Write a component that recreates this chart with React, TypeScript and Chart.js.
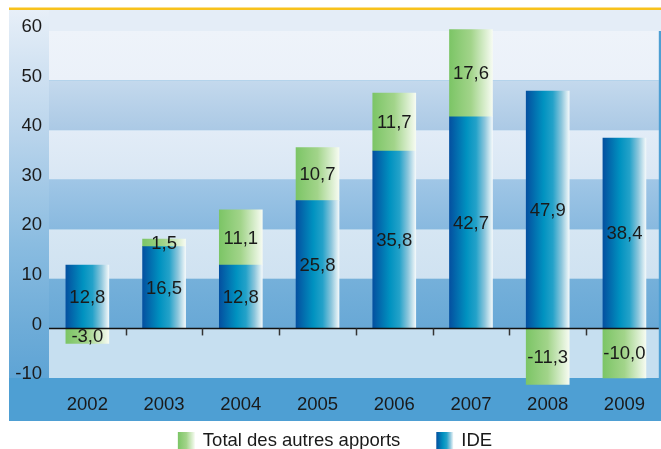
import React, { useEffect, useRef } from 'react';
import { Chart, registerables } from 'chart.js';

Chart.register(...registerables);

// ---- data ----
const years = [2002, 2003, 2004, 2005, 2006, 2007, 2008, 2009];
const ide = [12.8, 16.5, 12.8, 25.8, 35.8, 42.7, 47.9, 38.4];
const autres = [-3.0, 1.5, 11.1, 10.7, 11.7, 17.6, -11.3, -10.0];
const yTicks = [-10, 0, 10, 20, 30, 40, 50, 60];
const seriesIDE = 'IDE';
const seriesAutres = 'Total des autres apports';

// ---- style ----
const FONT = "'Liberation Sans', Arial, Helvetica, sans-serif";
const FSIZE = 18.5;
const TEXT = '#1a1a1a';
const BAR_W = 43;

function blueStops(g: CanvasGradient) {
  g.addColorStop(0, '#0450a0');
  g.addColorStop(0.4, '#0092c0');
  g.addColorStop(0.62, '#24a2c9');
  g.addColorStop(0.82, '#8cc6dc');
  g.addColorStop(1, '#f2f8fa');
}
function greenStops(g: CanvasGradient) {
  g.addColorStop(0, '#7cc566');
  g.addColorStop(0.5, '#a2d48a');
  g.addColorStop(1, '#f6fbf1');
}

// band colours, from top (60..50) to bottom (0..-10): [top colour, bottom colour]
const bandColors: [string, string][] = [
  ['#eef3fa', '#ebf1f9'],
  ['#c4d9ed', '#abc9e5'],
  ['#e2ecf7', '#d9e7f4'],
  ['#a0c6e6', '#88b9df'],
  ['#d6e6f3', '#cfe2f1'],
  ['#75b0da', '#68a8d6'],
  ['#c6dff0', '#c6dff0'],
];

function barGradient(ctx: any, stops: (g: CanvasGradient) => void, fallback: string) {
  const chart = ctx.chart;
  const xs = chart.scales && chart.scales.x;
  if (ctx.type !== 'data' || !xs || xs.width == null) return fallback;
  const xc = xs.getPixelForValue(years[ctx.dataIndex]);
  if (!isFinite(xc)) return fallback;
  const g = chart.ctx.createLinearGradient(xc - BAR_W / 2, 0, xc + BAR_W / 2, 0);
  stops(g);
  return g;
}

const legendStops = [greenStops, blueStops];

const bgPlugin = {
  id: 'bgPanel',
  beforeDraw(chart: any) {
    const { ctx, chartArea: a } = chart;
    const y = chart.scales.y;
    const L = 9, R = 661, T = 10, B = 421;
    ctx.save();
    ctx.fillStyle = '#4e9fd3';
    ctx.fillRect(L, T, R - L, B - T);
    const yBottom = y.getPixelForValue(yTicks[0]);
    const g = ctx.createLinearGradient(0, T, 0, yBottom);
    g.addColorStop(0, '#e7eff8');
    g.addColorStop(0.35, '#b7d3eb');
    g.addColorStop(0.65, '#88bbe0');
    g.addColorStop(0.86, '#6eacd8');
    g.addColorStop(1, '#5ea4d5');
    ctx.fillStyle = g;
    ctx.fillRect(L, T, a.left - L, yBottom - T);
    ctx.fillStyle = '#e4edf7';
    ctx.fillRect(a.left, T, R - a.left, a.top - T);
    for (let i = 0; i < yTicks.length - 1; i++) {
      const hi = yTicks[yTicks.length - 1 - i];
      const lo = yTicks[yTicks.length - 2 - i];
      const top = y.getPixelForValue(hi);
      const bot = y.getPixelForValue(lo);
      const c = bandColors[i];
      const bg = ctx.createLinearGradient(0, top, 0, bot);
      bg.addColorStop(0, c[0]);
      bg.addColorStop(1, c[1]);
      ctx.fillStyle = bg;
      ctx.fillRect(a.left, top, a.right - a.left, bot - top);
    }
    ctx.fillStyle = '#f8c21c';
    ctx.fillRect(L, 7.5, R - L, 2.5);
    ctx.restore();
  },
  afterDatasetsDraw(chart: any) {
    const { ctx, chartArea: a } = chart;
    const x = chart.scales.x;
    const y = chart.scales.y;
    const y0 = y.getPixelForValue(0);
    ctx.save();
    ctx.strokeStyle = '#111';
    ctx.lineWidth = 1.5;
    ctx.beginPath();
    ctx.moveTo(a.left, y0);
    ctx.lineTo(a.right, y0);
    ctx.stroke();
    ctx.strokeStyle = '#333';
    for (let i = 0; i < years.length - 1; i++) {
      const px = Math.round(x.getPixelForValue(years[i] + 0.5)) + 0.5;
      ctx.beginPath();
      ctx.moveTo(px, y0);
      ctx.lineTo(px, y0 + 7);
      ctx.stroke();
    }
    // value labels
    ctx.font = `${FSIZE}px ${FONT}`;
    ctx.fillStyle = TEXT;
    ctx.textAlign = 'center';
    ctx.textBaseline = 'middle';
    chart.data.datasets.forEach((ds: any, di: number) => {
      const meta = chart.getDatasetMeta(di);
      meta.data.forEach((el: any, i: number) => {
        const v = ds.data[i];
        if (v == null) return;
        const txt = v.toFixed(1).replace('.', ',');
        ctx.fillText(txt, el.x, (el.y + el.base) / 2 + 1);
      });
    });
    ctx.restore();
  },
  afterDraw(chart: any) {
    // legend (series order reversed: "autres" first, then IDE)
    const { ctx } = chart;
    const items = chart.data.datasets.map((d: any) => d.label).reverse();
    const box = 17, gap = 8, spacing = 36, cx = 335, cy = 440;
    ctx.save();
    ctx.font = `${FSIZE}px ${FONT}`;
    const widths = items.map((t: string) => ctx.measureText(t).width);
    let total = 0;
    widths.forEach((w: number, i: number) => {
      total += box + gap + w + (i < widths.length - 1 ? spacing : 0);
    });
    let xx = cx - total / 2;
    ctx.textAlign = 'left';
    ctx.textBaseline = 'middle';
    items.forEach((t: string, i: number) => {
      const g = ctx.createLinearGradient(xx, 0, xx + box, 0);
      legendStops[i](g);
      ctx.fillStyle = g;
      ctx.fillRect(xx, cy - 8, box, box + 2);
      ctx.fillStyle = TEXT;
      ctx.fillText(t, xx + box + gap, cy + 1);
      xx += box + gap + widths[i] + spacing;
    });
    ctx.restore();
  },
};

export default function App() {
  const ref = useRef<HTMLCanvasElement | null>(null);
  useEffect(() => {
    document.body.style.margin = '0';
    const canvas = ref.current;
    if (!canvas) return;
    const chart = new Chart(canvas, {
      type: 'bar',
      data: {
        labels: years,
        datasets: [
          {
            label: seriesIDE,
            data: ide,
            stack: 's',
            barThickness: BAR_W,
            borderWidth: 0,
            clip: false as any,
            backgroundColor: (c: any) => barGradient(c, blueStops, '#0092c0'),
          },
          {
            label: seriesAutres,
            data: autres,
            stack: 's',
            barThickness: BAR_W,
            borderWidth: 0,
            clip: false as any,
            backgroundColor: (c: any) => barGradient(c, greenStops, '#a2d48a'),
          },
        ],
      } as any,
      options: {
        responsive: false,
        devicePixelRatio: 1,
        animation: false,
        layout: { padding: { top: 31, left: 11, right: 0, bottom: 0 } },
        scales: {
          x: {
            type: 'linear',
            min: 2001.5,
            max: 2009.448,
            stacked: true,
            offset: false,
            grid: { display: false, drawTicks: false },
            border: { display: false },
            afterBuildTicks: (s: any) => {
              s.ticks = years.map((v) => ({ value: v }));
            },
            afterFit: (s: any) => {
              s.height = 71;
            },
            ticks: {
              padding: 16,
              autoSkip: false,
              maxRotation: 0,
              color: TEXT,
              font: { family: FONT, size: FSIZE },
              callback: (v: any) => String(v),
            },
          },
          y: {
            min: -10,
            max: 60,
            stacked: true,
            grid: { display: false, drawTicks: false },
            border: { display: false },
            afterBuildTicks: (s: any) => {
              s.ticks = yTicks.map((v) => ({ value: v }));
            },
            afterFit: (s: any) => {
              s.width = 38;
            },
            ticks: {
              padding: 7,
              labelOffset: -4,
              color: TEXT,
              font: { family: FONT, size: FSIZE },
              callback: (v: any) => String(v),
            },
          },
        },
        plugins: {
          tooltip: { enabled: false },
          legend: { display: false },
        },
      } as any,
      plugins: [bgPlugin],
    });
    return () => chart.destroy();
  }, []);
  return (
    <div style={{ width: 661, height: 449 }}>
      <canvas ref={ref} width={661} height={449} style={{ display: 'block' }} />
    </div>
  );
}
